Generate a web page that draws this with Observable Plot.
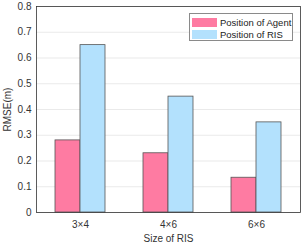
<!DOCTYPE html>
<html><head><meta charset="utf-8">
<script src="https://cdn.jsdelivr.net/npm/d3@7"></script>
<script src="https://cdn.jsdelivr.net/npm/@observablehq/plot@0.6"></script>
<style>
body{margin:0;background:#fff;font-family:"Liberation Sans",Arial,sans-serif;}
#wrap{position:relative;width:305px;height:243px;}
#legend{position:absolute;left:189px;top:13px;width:104px;height:28px;border:1px solid #8a8a8a;background:#fff;font-size:9.5px;color:#222;box-sizing:border-box;padding-top:2px;}
.item{display:flex;align-items:center;height:12px;}
.sw{width:25px;height:9px;margin:0 3px 0 2px;}
</style></head>
<body><div id="wrap"><div id="chart"></div>
<div id="legend"></div></div>
<script>
const categories = ["3×4", "4×6", "6×6"];
const seriesNames = ["Position of Agent", "Position of RIS"];
const agentValues = [0.28, 0.23, 0.135];
const risValues = [0.65, 0.45, 0.35];
const yTicks = [0, 0.1, 0.2, 0.3, 0.4, 0.5, 0.6, 0.7, 0.8];
const colors = ["#fe7ba2", "#b3e1fd"];

const agentData = categories.map((c, i) => ({cat: c, value: agentValues[i]}));
const risData = categories.map((c, i) => ({cat: c, value: risValues[i]}));

const chart = Plot.plot({
  width: 305, height: 243,
  marginLeft: 36, marginRight: 5, marginTop: 6, marginBottom: 31,
  style: {fontFamily: '"Liberation Sans", Arial, sans-serif', fontSize: "10px", color: "#333", background: "#fff"},
  x: {domain: categories, paddingInner: 0.432, paddingOuter: 0.216, label: "Size of RIS", labelAnchor: "center", labelOffset: 29, tickSize: 0, tickPadding: 8, labelArrow: false},
  y: {domain: [0, 0.8], ticks: yTicks, tickFormat: d => d === 0 ? "0" : d.toFixed(1), label: "RMSE(m)", labelAnchor: "center", labelOffset: 33, tickSize: 0, tickPadding: 5, grid: true, labelArrow: false},
  marks: [
    Plot.barY(agentData, {x: "cat", y: "value", fill: colors[0], stroke: "#555", strokeWidth: 0.8, insetRight: 25}),
    Plot.barY(risData, {x: "cat", y: "value", fill: colors[1], stroke: "#555", strokeWidth: 0.8, insetLeft: 25}),
    Plot.frame({stroke: "#333", strokeWidth: 0.8})
  ]
});
document.getElementById("chart").appendChild(chart);

const leg = document.getElementById("legend");
seriesNames.forEach((n, i) => {
  const d = document.createElement("div"); d.className = "item";
  const s = document.createElement("div"); s.className = "sw"; s.style.background = colors[i];
  const t = document.createElement("span"); t.textContent = n;
  d.appendChild(s); d.appendChild(t); leg.appendChild(d);
});
</script></body></html>
